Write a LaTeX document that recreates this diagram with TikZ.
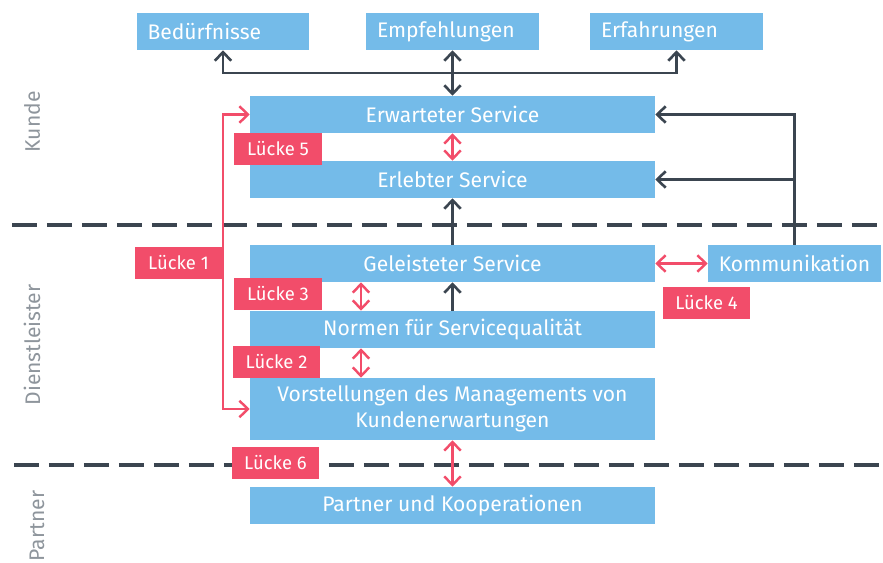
\documentclass[tikz,border=0pt]{standalone}
\usepackage{fontspec}
\setmainfont{Fira Sans}
\usetikzlibrary{arrows.meta}
\definecolor{boxblue}{HTML}{74BBE9}
\definecolor{gapred}{HTML}{F24D6A}
\definecolor{darkline}{HTML}{3B4550}
\definecolor{labelgrey}{HTML}{8E959C}
\tikzset{%
  >={Straight Barb[length=1.7mm,width=3.3mm]},
  % Specifications for style of nodes:
            base/.style = {rectangle, inner sep=0pt, text=white,
                           font=\fontsize{12}{14.7}\selectfont},
         bluebox/.style = {base, fill=boxblue, minimum width=8.1cm,
                           minimum height=0.74cm, align=center},
          topbox/.style = {base, fill=boxblue, inner xsep=0.22cm,
                           text width=3.02cm, minimum height=0.74cm, align=left},
         commbox/.style = {base, fill=boxblue, minimum width=3.46cm,
                           minimum height=0.74cm},
          gapbox/.style = {base, fill=gapred, minimum width=1.76cm,
                           minimum height=0.64cm, font=\fontsize{10.5}{12}\selectfont},
       sidelabel/.style = {text=labelgrey, rotate=90,
                           font=\fontsize{12}{14}\selectfont},
  % Specifications for style of lines:
       darkarrow/.style = {draw=darkline, line width=1.5pt},
        gaparrow/.style = {draw=gapred, line width=1.4pt},
         divider/.style = {draw=darkline, line width=2.2pt,
                           dash pattern=on 0.5cm off 0.2cm},
}
\begin{document}
\begin{tikzpicture}[x=0.02cm, y=-0.02cm]
  \useasboundingbox (0,0) rectangle (883,562);
  % Dividers between the areas
  \draw[divider]            (12,225) -- (883,225);
  \draw[divider]            (14,465) -- (883,465);

  \node (kunde)             [sidelabel] at (32,122) {Kunde};
  \node (dienst)            [sidelabel] at (32,345) {Dienstleister};
  \node (partnerlabel)      [sidelabel] at (37,526) {Partner};

  % Specification of nodes (position, etc.)
  \node (beduerf)           [topbox] at (223,31.5) {Bedürfnisse};
  \node (empf)              [topbox] at (452.5,31.5) {Empfehlungen};
  \node (erfahr)            [topbox] at (676.5,31.5) {Erfahrungen};

  \node (erwartet)          [bluebox] at (452.5,114.5) {Erwarteter Service};
  \node (erlebt)            [bluebox] at (452.5,179.5) {Erlebter Service};
  \node (geleistet)         [bluebox] at (452.5,263.5) {Geleisteter Service};
  \node (normen)            [bluebox] at (452.5,329.5) {Normen für Servicequalität};
  \node (vorst)             [bluebox, minimum height=1.24cm] at (452.5,409)
                            {Vorstellungen des Managements von\\Kundenerwartungen};
  \node (partner)           [bluebox] at (452.5,505.5) {Partner und Kooperationen};
  \node (komm)              [commbox] at (794.5,263.5) {Kommunikation};

  \coordinate (hub)         at (452.5,73);

  \draw[darkarrow,<->]      (empf) -- (erwartet);
  \draw[darkarrow,->]       (hub) -| (beduerf.south);
  \draw[darkarrow,->]       (hub) -| (erfahr.south);
  \draw[darkarrow,->]       (komm.north) |- (erwartet.east);
  \draw[darkarrow,->]       (komm.north) |- (erlebt.east);
  \draw[darkarrow,->]       (geleistet) -- (erlebt);
  \draw[darkarrow,->]       (normen) -- (geleistet);

  \draw[gaparrow,<->]       (erwartet) -- (erlebt);
  \draw[gaparrow,<->]       (geleistet) -- (komm);
  \draw[gaparrow,<->]       ([xshift=-1.83cm]geleistet.south) -- ([xshift=-1.83cm]normen.north);
  \draw[gaparrow,<->]       ([xshift=-1.83cm]normen.south) -- ([xshift=-1.83cm]vorst.north);
  \draw[gaparrow,<->]       (vorst) -- (partner);

  % Gaps
  \node (luecke1)           [gapbox] at (178.5,263) {Lücke 1};
  \node (luecke2)           [gapbox] at (276.5,362) {Lücke 2};
  \node (luecke3)           [gapbox] at (278,294) {Lücke 3};
  \node (luecke4)           [gapbox] at (706.5,303) {Lücke 4};
  \node (luecke5)           [gapbox] at (278,148.5) {Lücke 5};
  \node (luecke6)           [gapbox] at (275.5,462.5) {Lücke 6};

  \draw[gaparrow,->]        (luecke1.east) |- (erwartet.west);
  \draw[gaparrow,->]        (luecke1.east) |- (vorst.west);
\end{tikzpicture}
\end{document}
